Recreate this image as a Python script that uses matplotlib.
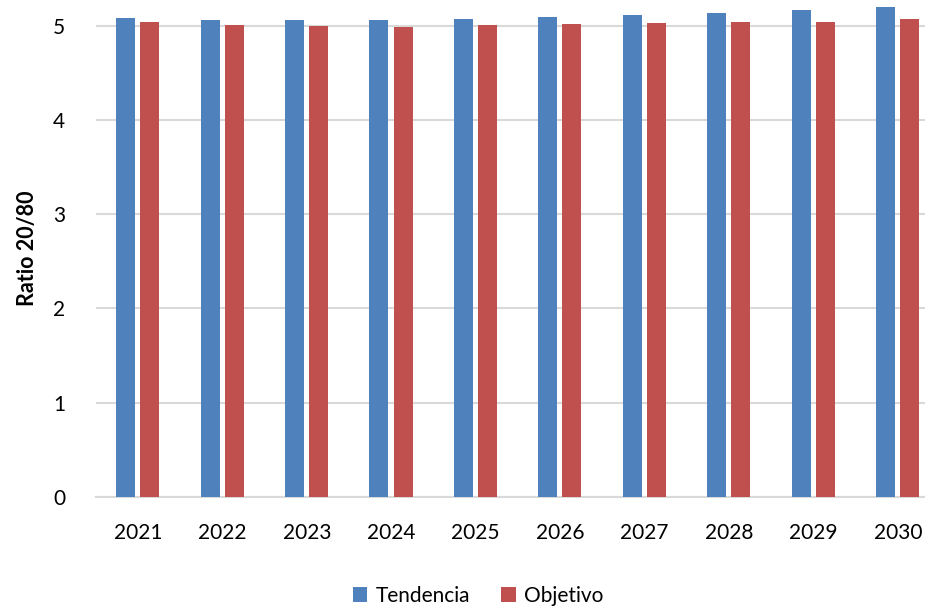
import matplotlib
matplotlib.use('Agg')
from matplotlib import pyplot as plt
import numpy as np

years = ['2021', '2022', '2023', '2024', '2025', '2026', '2027', '2028', '2029', '2030']
tendencia = [5.085, 5.06, 5.057, 5.06, 5.071, 5.096, 5.11, 5.138, 5.167, 5.20]
objetivo = [5.04, 5.007, 4.993, 4.99, 5.007, 5.018, 5.025, 5.035, 5.04, 5.068]

blue = '#4f81bd'
red = '#c0504d'
grid = '#d9d9d9'

plt.rcParams['font.family'] = ['Lato', 'DejaVu Sans']

fig = plt.figure(figsize=(9.25, 6.06), dpi=100)
# axes run past the right edge of the picture, as in the reference crop
ax = fig.add_axes([95.7/925, 109.3/606, 844.4/925, 496.7/606])

x = np.arange(len(years))
w = 0.225
ax.bar(x - 0.145, tendencia, w, color=blue, label='Tendencia', zorder=3)
ax.bar(x + 0.14, objetivo, w, color=red, label='Objetivo', zorder=3)

ax.set_xlim(-0.5, len(years) - 0.5)
ax.set_ylim(0, 5.273)
ax.set_yticks(np.arange(0, 6, 1))
ax.set_xticks(x, years)
ax.tick_params(axis='both', length=0, labelsize=15)
ax.tick_params(axis='y', pad=22)
ax.tick_params(axis='x', pad=19)
ax.yaxis.grid(True, color=grid, linewidth=1.5, zorder=0)
for s in ['top', 'right', 'left']:
    ax.spines[s].set_visible(False)
ax.spines['bottom'].set_color(grid)
ax.spines['bottom'].set_linewidth(1.5)
ax.set_ylabel('Ratio 20/80', fontsize=15.5, fontweight='bold', labelpad=11)

fig.legend(loc='center', bbox_to_anchor=(478/925, 1 - 596/606), ncol=2,
           frameon=False, fontsize=15, handlelength=0.7, handleheight=0.7,
           handletextpad=0.4, columnspacing=1.5)

fig.savefig('out.png', dpi=100)
